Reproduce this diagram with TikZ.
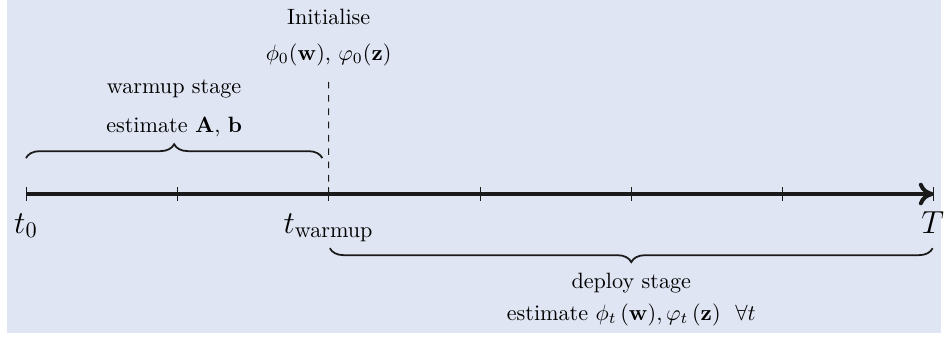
\documentclass[tikz,border=0pt]{standalone}
\usepackage{amsmath}
\usepackage{amssymb}
\usepackage{xcolor}
\usepackage{tikz}
\usetikzlibrary{arrows, positioning}
\usetikzlibrary{arrows.meta}
\usetikzlibrary{decorations.pathreplacing}
\usetikzlibrary{calc}
\definecolor{panelblue}{RGB}{223,229,243}
\definecolor{axisblack}{HTML}{1A1A1A}

\begin{document}
\begin{tikzpicture}[>={Computer Modern Rightarrow[length=2.4mm, width=3.6mm]},
    ticklabel/.style={anchor=base, font=\Large, inner sep=0mm},
    stagetext/.style={inner sep=0mm},
    stagebrace/.style={decorate, decoration={brace, amplitude=0.22cm}, thick, axisblack}]
        \useasboundingbox (-0.412,-2.284) rectangle (14.56,3.077);
        \fill[panelblue] (-0.30,3.077) rectangle (14.51,-2.205);
        % time axis
        \coordinate (tstart) at (0,0);
        \coordinate (tend) at (14.4,0);
        \foreach \i in {0,...,6} {
            \coordinate (tick\i) at (\i*2.4,0);
            \draw[axisblack, thin] ($(tick\i)+(0,0.11)$) -- ($(tick\i)+(0,-0.11)$);
        }
        \draw[axisblack, line width=1.8pt, ->] (tstart) -- (tend);
        \node[ticklabel] (t0lab) at (0,-0.62) {$t_0$};
        \node[ticklabel] (twarmlab) at (4.8,-0.62) {$t_{\text{warmup}}$};
        \node[ticklabel] (Tlab) at (14.38,-0.62) {$T$};
        % initialisation
        \coordinate (dashtop) at (4.8,1.78);
        \draw[axisblack, dashed, thin] (dashtop) -- (tick2);
        \node[stagetext] (init) at (4.8,2.81) {Initialise};
        \node[stagetext] (initfun) at (4.8,2.21) {$\phi_0(\mathbf{w})$, $\varphi_0(\mathbf{z})$};
        % warmup stage
        \coordinate (wbl) at (0,0.57);
        \coordinate (wbr) at (4.70,0.57);
        \draw[stagebrace] (wbl) -- (wbr);
        \node[stagetext] (warmup) at (2.35,1.67) {warmup stage};
        \node[stagetext] (estAb) at (2.35,1.06) {estimate $\mathbf{A}$, $\mathbf{b}$};
        % deploy stage
        \coordinate (dbl) at (4.82,-0.86);
        \coordinate (dbr) at (14.38,-0.86);
        \draw[stagebrace] (dbr) -- (dbl);
        \node[stagetext] (deploy) at (9.6,-1.41) {deploy stage};
        \node[stagetext] (estphi) at (9.6,-1.92) {estimate $\phi_t\,(\mathbf{w}), \varphi_t\,(\mathbf{z})\ \ \forall t$};
    \end{tikzpicture}
\end{document}
